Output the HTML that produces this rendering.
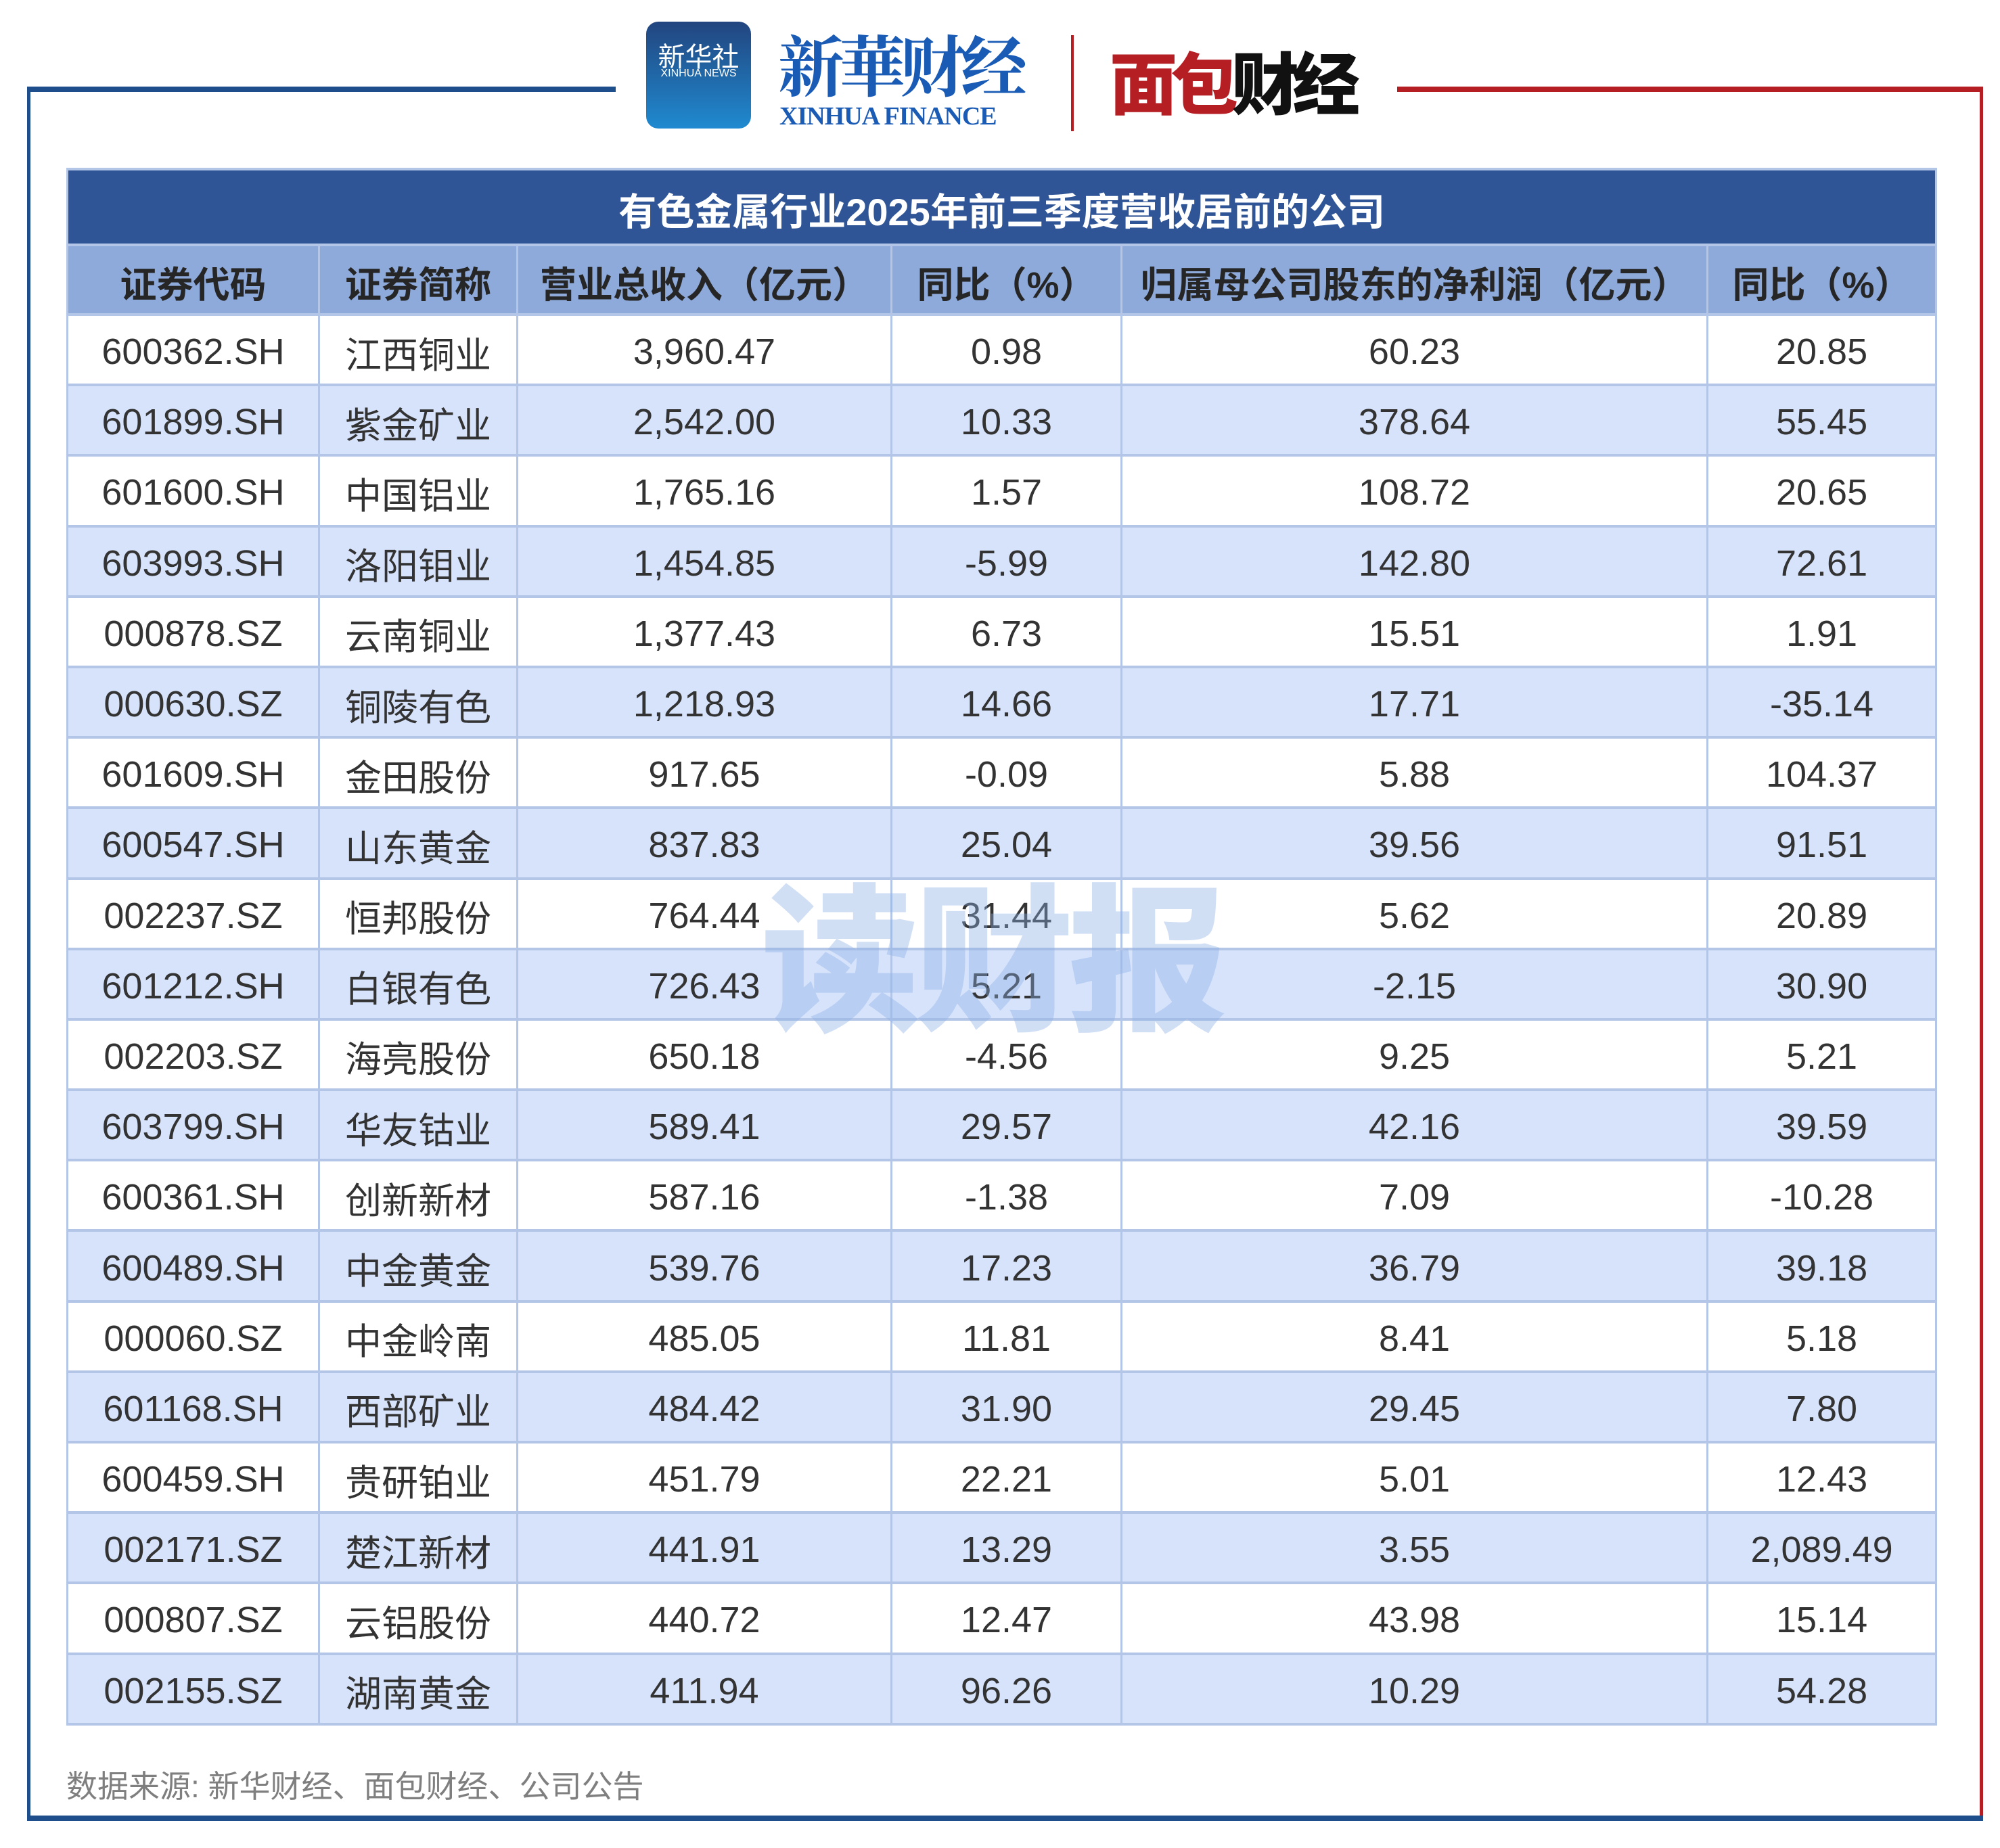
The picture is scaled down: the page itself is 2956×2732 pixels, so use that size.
<!DOCTYPE html>
<html><head><meta charset="utf-8"><style>
html,body{margin:0;padding:0;background:#fff;}
body{width:2956px;height:2732px;position:relative;overflow:hidden;font-family:"Liberation Sans","Noto Sans CJK SC",sans-serif;}
.abs{position:absolute;}
table{position:absolute;left:98px;top:248px;width:2762px;border-collapse:collapse;table-layout:fixed;}
td{border:4px solid #b4c6e7;border-left-width:3px;border-right-width:3px;text-align:center;color:#333;font-size:54px;padding:0;padding-top:6px;font-family:"Liberation Sans","Noto Sans CJK SC",sans-serif;}
tr.t td{background:#2f5597;color:#fff;font-weight:bold;font-size:56px;height:102px;}
tr.h td{background:#8eaadb;color:#262626;font-weight:bold;font-size:54px;height:93px;}
tr.d td{height:94.2px;background:#fff;}
tr.d:nth-child(even) td{background:#d6e3fb;}
</style></head><body>
<div class="abs" style="left:40px;top:128px;width:870px;height:8px;background:#1f4e8c"></div>
<div class="abs" style="left:40px;top:128px;width:5px;height:2564px;background:#1f4e8c"></div>
<div class="abs" style="left:2065px;top:128px;width:866px;height:8px;background:#b51f24"></div>
<div class="abs" style="left:2926px;top:128px;width:5px;height:2560px;background:#b51f24"></div>
<div class="abs" style="left:40px;top:2684px;width:2891px;height:8px;background:#1f4e8c"></div>
<!-- logos -->
<div class="abs" style="left:955px;top:32px;width:155px;height:158px;border-radius:18px;background:linear-gradient(#22457f,#1f8ad0);"></div>
<div class="abs" style="left:955px;top:52px;width:155px;text-align:center;color:#fff;font-size:40px;font-family:'Noto Sans CJK SC',sans-serif;">新华社</div>
<div class="abs" style="left:955px;top:100px;width:155px;text-align:center;color:#fff;font-size:16px;">XINHUA NEWS</div>
<div class="abs" style="left:1150px;top:22px;color:#1a5bb5;font-size:98px;font-weight:bold;font-family:'Noto Serif CJK SC',serif;letter-spacing:-8px;">新華财经</div>
<div class="abs" style="left:1152px;top:150px;color:#1a5bb5;font-size:38px;font-weight:bold;font-family:'Liberation Serif',serif;letter-spacing:-1px;">XINHUA FINANCE</div>
<div class="abs" style="left:1583px;top:52px;width:4px;height:142px;background:#b51f24"></div>
<div class="abs" style="left:1640px;top:45px;color:#b51f24;font-size:100px;font-weight:900;font-family:'Noto Sans CJK SC',sans-serif;letter-spacing:-10px;">面包<span style="color:#111">财经</span></div>
<table>
<colgroup><col style="width:372px"><col style="width:293px"><col style="width:553px"><col style="width:340px"><col style="width:866px"><col style="width:338px"></colgroup>
<tr class="t"><td colspan="6">有色金属行业2025年前三季度营收居前的公司</td></tr>
<tr class="h"><td>证券代码</td><td>证券简称</td><td>营业总收入（亿元）</td><td>同比（%）</td><td>归属母公司股东的净利润（亿元）</td><td>同比（%）</td></tr>
<tr class="d"><td>600362.SH</td><td>江西铜业</td><td>3,960.47</td><td>0.98</td><td>60.23</td><td>20.85</td></tr>
<tr class="d"><td>601899.SH</td><td>紫金矿业</td><td>2,542.00</td><td>10.33</td><td>378.64</td><td>55.45</td></tr>
<tr class="d"><td>601600.SH</td><td>中国铝业</td><td>1,765.16</td><td>1.57</td><td>108.72</td><td>20.65</td></tr>
<tr class="d"><td>603993.SH</td><td>洛阳钼业</td><td>1,454.85</td><td>-5.99</td><td>142.80</td><td>72.61</td></tr>
<tr class="d"><td>000878.SZ</td><td>云南铜业</td><td>1,377.43</td><td>6.73</td><td>15.51</td><td>1.91</td></tr>
<tr class="d"><td>000630.SZ</td><td>铜陵有色</td><td>1,218.93</td><td>14.66</td><td>17.71</td><td>-35.14</td></tr>
<tr class="d"><td>601609.SH</td><td>金田股份</td><td>917.65</td><td>-0.09</td><td>5.88</td><td>104.37</td></tr>
<tr class="d"><td>600547.SH</td><td>山东黄金</td><td>837.83</td><td>25.04</td><td>39.56</td><td>91.51</td></tr>
<tr class="d"><td>002237.SZ</td><td>恒邦股份</td><td>764.44</td><td>31.44</td><td>5.62</td><td>20.89</td></tr>
<tr class="d"><td>601212.SH</td><td>白银有色</td><td>726.43</td><td>5.21</td><td>-2.15</td><td>30.90</td></tr>
<tr class="d"><td>002203.SZ</td><td>海亮股份</td><td>650.18</td><td>-4.56</td><td>9.25</td><td>5.21</td></tr>
<tr class="d"><td>603799.SH</td><td>华友钴业</td><td>589.41</td><td>29.57</td><td>42.16</td><td>39.59</td></tr>
<tr class="d"><td>600361.SH</td><td>创新新材</td><td>587.16</td><td>-1.38</td><td>7.09</td><td>-10.28</td></tr>
<tr class="d"><td>600489.SH</td><td>中金黄金</td><td>539.76</td><td>17.23</td><td>36.79</td><td>39.18</td></tr>
<tr class="d"><td>000060.SZ</td><td>中金岭南</td><td>485.05</td><td>11.81</td><td>8.41</td><td>5.18</td></tr>
<tr class="d"><td>601168.SH</td><td>西部矿业</td><td>484.42</td><td>31.90</td><td>29.45</td><td>7.80</td></tr>
<tr class="d"><td>600459.SH</td><td>贵研铂业</td><td>451.79</td><td>22.21</td><td>5.01</td><td>12.43</td></tr>
<tr class="d"><td>002171.SZ</td><td>楚江新材</td><td>441.91</td><td>13.29</td><td>3.55</td><td>2,089.49</td></tr>
<tr class="d"><td>000807.SZ</td><td>云铝股份</td><td>440.72</td><td>12.47</td><td>43.98</td><td>15.14</td></tr>
<tr class="d"><td>002155.SZ</td><td>湖南黄金</td><td>411.94</td><td>96.26</td><td>10.29</td><td>54.28</td></tr>
</table>
<!-- watermark -->
<div class="abs" style="left:1125px;top:1232px;z-index:5;color:rgba(140,175,230,0.4);font-size:235px;font-weight:900;font-family:'Noto Sans CJK SC',sans-serif;letter-spacing:-8px;">读财报</div>
<div class="abs" style="left:98px;top:2605px;color:#7f7f7f;font-size:46px;font-family:'Liberation Sans','Noto Sans CJK SC',sans-serif;">数据来源: 新华财经、面包财经、公司公告</div>
</body></html>
